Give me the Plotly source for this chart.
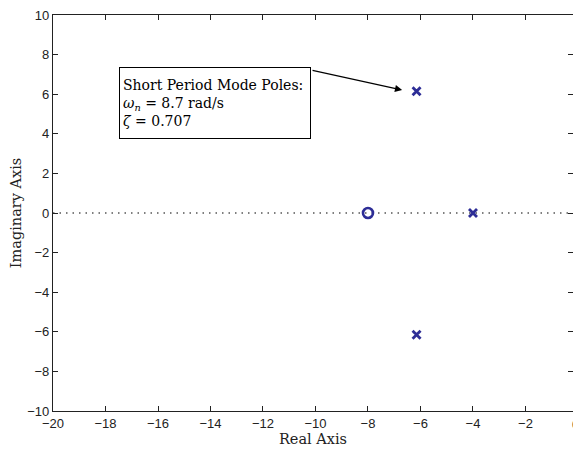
import plotly.graph_objects as go

# Data
pole_re = [-6.15, -6.15, -4.0]
pole_im = [6.15, -6.15, 0.0]
zero_re = [-8.0]
zero_im = [0.0]
x_ticks = [-20, -18, -16, -14, -12, -10, -8, -6, -4, -2, 0]
y_ticks = [-10, -8, -6, -4, -2, 0, 2, 4, 6, 8, 10]

mark_color = "#2d2d96"
tick_font = dict(family="Liberation Sans, Arial", size=13, color="#222222")
serif = "DejaVu Serif, Liberation Serif, serif"
title_font = dict(family=serif, size=14.5, color="#222222")

fig = go.Figure()
fig.add_trace(go.Scatter(x=pole_re, y=pole_im, mode="markers",
                         marker=dict(symbol="x-thin", size=8, line=dict(width=2.8, color=mark_color), color=mark_color),
                         showlegend=False, hoverinfo="skip"))
fig.add_trace(go.Scatter(x=zero_re, y=zero_im, mode="markers",
                         marker=dict(symbol="circle-open", size=10, line=dict(width=2.6, color=mark_color), color=mark_color),
                         showlegend=False, hoverinfo="skip"))

fig.add_shape(type="line", xref="paper", yref="y", x0=0, x1=1, y0=0, y1=0,
              line=dict(color="black", width=1.2, dash="1.5px,5px"), layer="below")

# Text box
fig.add_annotation(xref="x", yref="y", x=-17.49, y=7.37, xanchor="left", yanchor="top",
                   text="Short Period Mode Poles:<br><i>ω</i><sub><i>n</i></sub> = 8.7 rad/s<br><i>ζ</i> = 0.707",
                   showarrow=False, align="left", width=184, height=64,
                   bordercolor="black", borderwidth=1, borderpad=3, bgcolor="white",
                   font=dict(family=serif, size=14, color="black"))
# Arrow
fig.add_annotation(xref="x", yref="y", x=-6.70, y=6.21, axref="x", ayref="y", ax=-10.17, ay=7.22,
                   text="", showarrow=True, arrowhead=2, arrowsize=1.3, arrowwidth=1.1, arrowcolor="black")
# Cut-off "0" tick label at the right edge
fig.add_annotation(xref="paper", yref="paper", x=1, xshift=2, y=0, yshift=-4, yanchor="top", xanchor="center",
                   text="0", showarrow=False, font=tick_font)

fmt = lambda v: "\u2212" + str(abs(v)) if v < 0 else str(v)

fig.update_xaxes(range=[-20, -0.19], tickvals=x_ticks, ticktext=[fmt(v) for v in x_ticks],
                 ticks="inside", ticklen=5, tickcolor="#222222", tickwidth=1,
                 showline=True, linecolor="#222222", linewidth=1.2, mirror="ticks",
                 showgrid=False, zeroline=False, tickfont=tick_font,
                 title=dict(text="Real Axis", font=title_font, standoff=4))
fig.update_yaxes(range=[-10, 10], tickvals=y_ticks, ticktext=[fmt(v) for v in y_ticks],
                 ticks="inside", ticklen=5, tickcolor="#222222", tickwidth=1,
                 showline=True, linecolor="#222222", linewidth=1.2, mirror="ticks",
                 showgrid=False, zeroline=False, tickfont=tick_font,
                 title=dict(text="Imaginary Axis", font=title_font, standoff=2))

fig.update_layout(width=573, height=453, autosize=False,
                  margin=dict(l=53, r=0, t=15, b=42),
                  plot_bgcolor="white", paper_bgcolor="white")

fig.write_html("out.html")
